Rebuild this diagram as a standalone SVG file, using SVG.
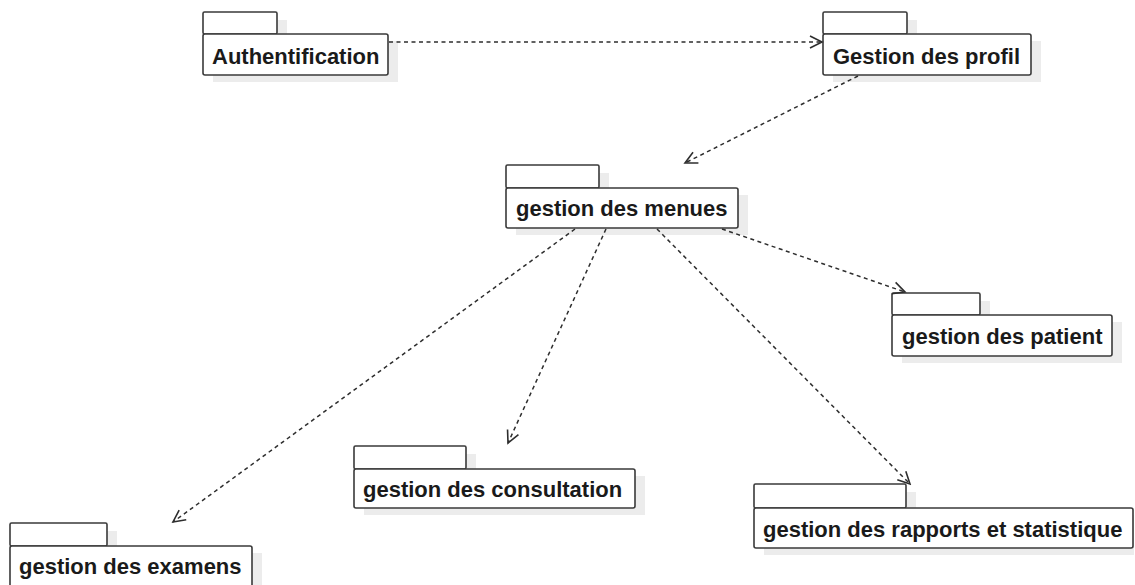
<svg xmlns="http://www.w3.org/2000/svg" width="1135" height="585" viewBox="0 0 1135 585">
  <style>
    .shadow { fill: #ececec; stroke: none; }
    .tab, .body { fill: #ffffff; stroke: #3a3a3a; stroke-width: 1.6; }
    .label { font-family: "Liberation Sans", Arial, sans-serif; font-weight: bold; font-size: 22px; fill: #1a1a1a; }
    .dep { fill: none; stroke: #2e2e2e; stroke-width: 1.5; stroke-dasharray: 4 3.5; }
  </style>
  <defs>
    <marker id="open-arrow" markerUnits="userSpaceOnUse" markerWidth="16" markerHeight="16" viewBox="0 0 16 16" refX="14" refY="8" orient="auto">
      <path d="M2,2 L14,8 L2,14" fill="none" stroke="#2e2e2e" stroke-width="1.6"/>
    </marker>
  </defs>

  <rect width="1135" height="585" fill="#ffffff"/>

  <!-- packages -->
  <g id="pkg-authentification">
    <rect class="shadow" x="213" y="20" width="74" height="22"/>
    <rect class="shadow" x="213" y="41" width="185" height="41"/>
    <rect class="tab" x="203" y="12" width="74" height="22" rx="1.5"/>
    <rect class="body" x="203" y="34" width="185" height="41" rx="2"/>
    <text class="label" x="212" y="64">Authentification</text>
  </g>

  <g id="pkg-gestion-profil">
    <rect class="shadow" x="833" y="20" width="84" height="22"/>
    <rect class="shadow" x="833" y="41" width="208" height="41"/>
    <rect class="tab" x="823" y="12" width="84" height="22" rx="1.5"/>
    <rect class="body" x="823" y="34" width="208" height="41" rx="2"/>
    <text class="label" x="833" y="64">Gestion des profil</text>
  </g>

  <g id="pkg-gestion-menues">
    <rect class="shadow" x="516" y="173" width="93" height="23"/>
    <rect class="shadow" x="516" y="195" width="232" height="40"/>
    <rect class="tab" x="506" y="165" width="93" height="23" rx="1.5"/>
    <rect class="body" x="506" y="188" width="232" height="40" rx="2"/>
    <text class="label" x="516" y="216">gestion des menues</text>
  </g>

  <g id="pkg-gestion-patient">
    <rect class="shadow" x="902" y="301" width="88" height="22"/>
    <rect class="shadow" x="902" y="322" width="220" height="41"/>
    <rect class="tab" x="892" y="293" width="88" height="22" rx="1.5"/>
    <rect class="body" x="892" y="315" width="220" height="41" rx="2"/>
    <text class="label" x="902" y="344">gestion des patient</text>
  </g>

  <g id="pkg-gestion-consultation">
    <rect class="shadow" x="364" y="454" width="112" height="23"/>
    <rect class="shadow" x="364" y="476" width="281" height="39"/>
    <rect class="tab" x="354" y="446" width="112" height="23" rx="1.5"/>
    <rect class="body" x="354" y="469" width="281" height="39" rx="2"/>
    <text class="label" x="363" y="497">gestion des consultation</text>
  </g>

  <g id="pkg-gestion-rapports">
    <rect class="shadow" x="764" y="492" width="152" height="24"/>
    <rect class="shadow" x="764" y="515" width="370" height="40"/>
    <rect class="tab" x="754" y="484" width="152" height="24" rx="1.5"/>
    <rect class="body" x="754" y="508" width="379" height="40" rx="2"/>
    <text class="label" x="763" y="537">gestion des rapports et statistique</text>
  </g>

  <g id="pkg-gestion-examens">
    <rect class="shadow" x="20" y="531" width="97" height="23"/>
    <rect class="shadow" x="20" y="553" width="242" height="40"/>
    <rect class="tab" x="10" y="523" width="97" height="23" rx="1.5"/>
    <rect class="body" x="10" y="546" width="242" height="45" rx="2"/>
    <text class="label" x="19" y="574">gestion des examens</text>
  </g>

  <!-- dependency connectors, drawn over the package shadows -->
  <g id="connectors">
    <line class="dep" x1="389" y1="42" x2="822" y2="42" marker-end="url(#open-arrow)"/>
    <line class="dep" x1="858" y1="76" x2="685" y2="163" marker-end="url(#open-arrow)"/>
    <line class="dep" x1="575" y1="229" x2="173" y2="522" marker-end="url(#open-arrow)"/>
    <line class="dep" x1="606" y1="229" x2="508" y2="443" marker-end="url(#open-arrow)"/>
    <line class="dep" x1="657" y1="229" x2="910" y2="484" marker-end="url(#open-arrow)"/>
    <line class="dep" x1="722" y1="229" x2="905" y2="292" marker-end="url(#open-arrow)"/>
  </g>
</svg>
